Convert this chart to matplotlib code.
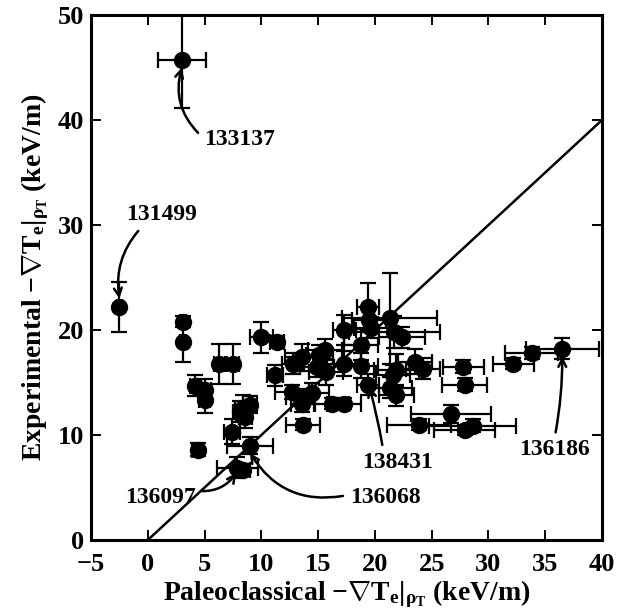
import matplotlib
matplotlib.use("Agg")
import matplotlib.pyplot as plt
import numpy as np

# Data: (paleoclassical gradient, experimental gradient, x error, y error)
paleo = [3.0, -2.5, 3.1, 3.1, 4.2, 5.0, 5.0, 4.4, 6.3, 7.5,
         7.4, 8.1, 8.4, 8.6, 9.0, 9.0, 7.9, 8.4, 10.0, 11.4,
         11.2, 12.8, 13.6, 12.7, 13.4, 13.6, 14.5, 13.7, 14.9, 15.6,
         15.1, 15.7, 16.2, 17.3, 17.3, 18.8, 17.3, 18.8, 19.4, 19.4,
         19.5, 19.7, 21.3, 21.7, 22.4, 23.5, 24.2, 21.9, 21.6, 21.3,
         21.9, 27.8, 27.9, 26.7, 23.9, 27.9, 28.6, 32.2, 33.8, 36.5]
expt = [45.7, 22.2, 20.8, 18.9, 14.7, 14.3, 13.3, 8.6, 16.8, 16.8,
        10.3, 12.2, 12.6, 11.7, 12.9, 9.0, 6.9, 6.7, 19.3, 18.9,
        15.7, 16.8, 17.4, 14.1, 13.6, 13.0, 14.0, 11.0, 16.5, 18.1,
        17.6, 16.0, 13.0, 13.0, 20.0, 18.6, 16.8, 16.6, 14.8, 22.2,
        21.0, 20.2, 21.1, 19.8, 19.3, 17.0, 16.3, 16.2, 15.7, 14.5,
        13.8, 16.5, 14.8, 12.0, 11.0, 10.5, 10.9, 16.8, 17.8, 18.2]
paleo_err = [2.1, 0.2, 0.3, 0.3, 0.5, 0.6, 0.5, 0.5, 0.5, 0.5,
             0.7, 0.6, 0.7, 0.6, 0.6, 2.0, 1.8, 0.6, 1.0, 0.6,
             0.7, 1.0, 1.5, 1.5, 1.2, 1.0, 1.5, 1.5, 1.5, 1.5,
             1.2, 1.5, 1.5, 1.5, 1.0, 1.5, 1.5, 1.5, 1.0, 1.0,
             1.5, 1.5, 4.2, 4.0, 2.0, 1.5, 1.5, 2.0, 1.5, 2.0,
             1.5, 1.8, 2.0, 3.5, 2.8, 2.7, 3.8, 1.8, 2.3, 3.2]
expt_err = [4.6, 2.4, 0.5, 1.9, 1.0, 1.0, 1.2, 0.6, 1.9, 1.9,
            1.2, 1.0, 1.2, 1.0, 0.8, 0.8, 1.0, 0.5, 1.5, 0.5,
            1.0, 1.0, 1.3, 0.7, 0.8, 0.8, 1.0, 0.5, 1.0, 1.0,
            1.0, 1.2, 0.5, 0.5, 1.4, 1.5, 1.2, 1.2, 1.0, 2.3,
            1.2, 1.0, 4.3, 1.5, 1.0, 1.2, 1.0, 1.5, 1.0, 1.0,
            1.0, 0.6, 0.6, 0.9, 0.5, 0.5, 0.6, 0.5, 0.6, 1.0]

# Annotations: label, point, text position
ann_labels = ["133137", "131499", "138431", "136186", "136068", "136097"]
ann_points = [(3.0, 45.0), (-2.5, 23.0), (19.5, 14.6), (36.5, 17.5), (9.0, 8.3), (7.8, 6.4)]
ann_text = [(5.0, 38.1), (1.2, 31.0), (22.0, 7.4), (35.8, 8.6), (17.8, 4.1), (4.2, 4.1)]
ann_ha = ["left", "center", "center", "center", "left", "right"]
ann_rad = [-0.3, 0.25, 0.03, 0.05, -0.35, 0.3]
ann_relpos = [(-0.05, 0.7), (0.25, 0.0), (0.3, 1.0), (0.5, 1.0), (-0.02, 0.6), (1.0, 0.8)]

serif = ["Liberation Serif", "DejaVu Serif"]
plt.rcParams["font.family"] = serif
plt.rcParams["font.weight"] = "bold"
plt.rcParams["mathtext.fontset"] = "custom"
plt.rcParams["mathtext.rm"] = "Liberation Serif:bold"
plt.rcParams["mathtext.it"] = "Liberation Serif:bold"
plt.rcParams["mathtext.bf"] = "Liberation Serif:bold"
plt.rcParams["mathtext.sf"] = "Liberation Serif:bold"

fig = plt.figure(figsize=(6.17, 6.13), dpi=100)
ax = fig.add_axes([0.1475, 0.119, 0.8282, 0.8565])

ax.plot([0, 40], [0, 40], color="black", lw=1.8, zorder=1)
ax.errorbar(paleo, expt, xerr=paleo_err, yerr=expt_err, fmt="o", color="black",
            ms=11.5, elinewidth=1.6, capsize=5.5, capthick=1.6, zorder=2)

for lab, pt, tp, ha, rad, rp in zip(ann_labels, ann_points, ann_text, ann_ha,
                                    ann_rad, ann_relpos):
    ax.annotate(lab, xy=pt, xytext=tp, ha=ha, va="center", fontsize=17,
                fontweight="bold",
                arrowprops=dict(arrowstyle="->", color="black", lw=1.8,
                                connectionstyle=f"arc3,rad={rad}", relpos=rp,
                                shrinkA=3, shrinkB=0, mutation_scale=14))

ax.set_xlim(-5, 40)
ax.set_ylim(0, 50)
ax.set_xticks(np.arange(-5, 41, 5))
ax.set_yticks(np.arange(0, 51, 10))
ax.tick_params(direction="in", length=7, width=1.4, top=True, right=True,
               labelsize=19)
ax.tick_params(axis="x", pad=9)
ax.tick_params(axis="y", pad=5)
for lbl in ax.get_xticklabels() + ax.get_yticklabels():
    lbl.set_fontweight("bold")
for s in ax.spines.values():
    s.set_linewidth(2.2)

ax.set_xlabel(r"Paleoclassical $-\nabla\mathrm{T}_{\mathrm{e}}|_{\rho_\mathrm{T}}$ (keV/m)",
              fontsize=20, fontweight="bold", labelpad=2)
ax.set_ylabel(r"Experimental $-\nabla\mathrm{T}_{\mathrm{e}}|_{\rho_\mathrm{T}}$ (keV/m)",
              fontsize=20, fontweight="bold", labelpad=5)

fig.savefig("out.png", dpi=100)
